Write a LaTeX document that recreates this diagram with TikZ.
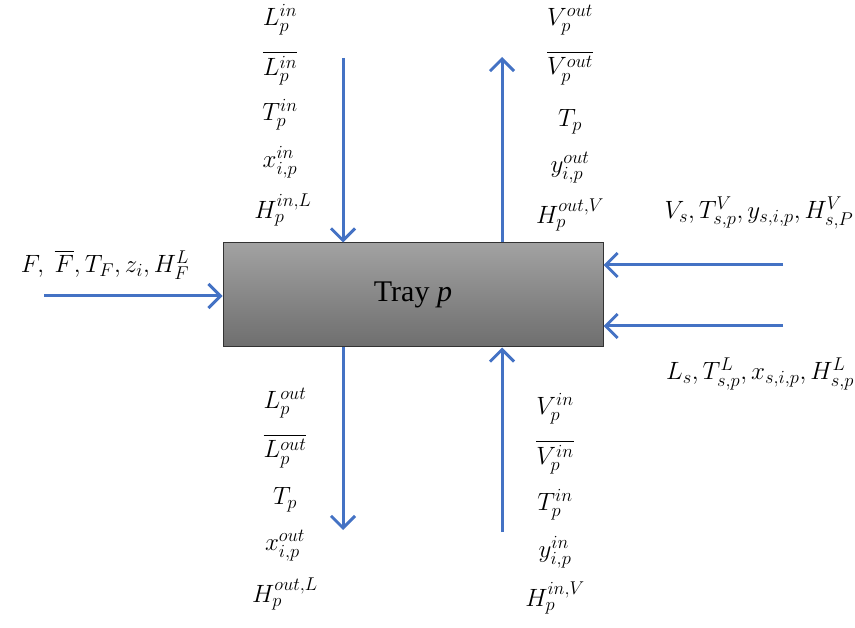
\documentclass[tikz,border=0pt]{standalone}
\usepackage{fix-cm}
\usepackage{amsmath}
\usepackage{fontspec}
\setmainfont{Liberation Serif}
\DeclareMathSizes{25}{25}{18.5}{14}
\usetikzlibrary{arrows.meta,shadings}
\definecolor{flowblue}{HTML}{4472C4}
\definecolor{boxtop}{HTML}{A2A2A2}
\definecolor{boxbot}{HTML}{6E6E6E}
\tikzset{
  flow/.style={draw=flowblue, line width=3pt, -{Straight Barb[length=12pt,width=24pt,line width=3pt]}},
  lbl/.style={inner sep=0pt, font=\fontsize{25}{28}\selectfont},
}
\begin{document}
\begin{tikzpicture}[x=1pt,y=-1pt]
\useasboundingbox (0,0) rectangle (855,628);
\node[draw=black!80, line width=1pt, top color=boxtop, bottom color=boxbot,
      minimum width=380pt, minimum height=104pt, inner sep=0pt,
      font=\fontsize{30}{34}\selectfont] (tray) at (413,295) {Tray \textit{p}};

% free ends
\coordinate (fin) at (44,296);
\coordinate (tlin) at (343,58);
\coordinate (trout) at (502,57);
\coordinate (rvin) at (783,265);
\coordinate (rlin) at (783,326);
\coordinate (blout) at (343,530);
\coordinate (brin) at (502,532);

\draw[flow] (fin) -- (fin -| tray.west);
\draw[flow] (tlin) -- (tlin |- tray.north);
\draw[flow] (trout |- tray.north) -- (trout);
\draw[flow] (rvin) -- (rvin -| tray.east);
\draw[flow] (rlin) -- (rlin -| tray.east);
\draw[flow] (blout |- tray.south) -- (blout);
\draw[flow] (brin) -- (brin |- tray.south);

% left feed label
\node[lbl] (feed) at (105,265) {$F,\ \overline{F}, T_F, z_i, H_F^L$};

% top-left column
\node[lbl] (a1) at (280,20) {$L_p^{in}$};
\node[lbl] (a2) at (280,68) {$\overline{L_p^{in}}$};
\node[lbl] (a3) at (280,115) {$T_p^{in}$};
\node[lbl] (a4) at (280,162) {$x_{i,p}^{in}$};
\node[lbl] (a5) at (283,210) {$H_p^{in,L}$};

% top-right column
\node[lbl] (b1) at (570,20) {$V_p^{out}$};
\node[lbl] (b2) at (570,68) {$\overline{V_p^{out}}$};
\node[lbl] (b3) at (570,122) {$T_p$};
\node[lbl] (b4) at (570,168) {$y_{i,p}^{out}$};
\node[lbl] (b5) at (570,215) {$H_p^{out,V}$};

% right labels
\node[lbl] (c1) at (759,213) {$V_s, T_{s,p}^V, y_{s,i,p}, H_{s,P}^V$};
\node[lbl] (c2) at (760,374) {$L_s, T_{s,p}^L, x_{s,i,p}, H_{s,p}^L$};

% bottom-left column
\node[lbl] (d1) at (285,403) {$L_p^{out}$};
\node[lbl] (d2) at (285,451) {$\overline{L_p^{out}}$};
\node[lbl] (d3) at (285,500) {$T_p$};
\node[lbl] (d4) at (285,546) {$x_{i,p}^{out}$};
\node[lbl] (d5) at (285,594) {$H_p^{out,L}$};

% bottom-right column
\node[lbl] (e1) at (555,409) {$V_p^{in}$};
\node[lbl] (e2) at (555,457) {$\overline{V_p^{in}}$};
\node[lbl] (e3) at (555,505) {$T_p^{in}$};
\node[lbl] (e4) at (555,552) {$y_{i,p}^{in}$};
\node[lbl] (e5) at (555,598) {$H_p^{in,V}$};
\end{tikzpicture}
\end{document}
